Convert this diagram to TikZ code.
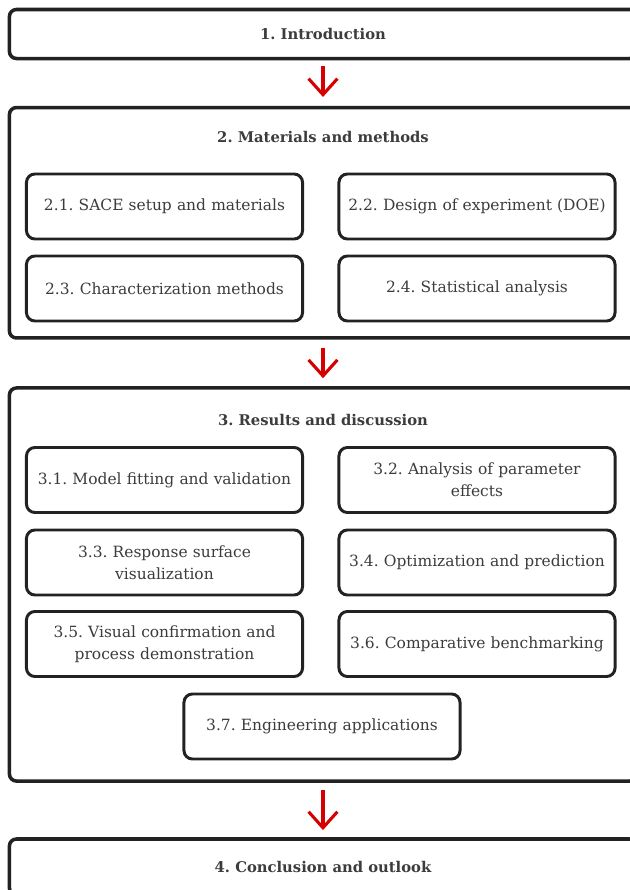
\documentclass[tikz,border=0pt]{standalone}
\usepackage{fontspec}
\setmainfont{DejaVu Serif}
\usepackage{xcolor}
\usetikzlibrary{arrows.meta}
\definecolor{framegray}{RGB}{34,34,34}
\definecolor{inkgray}{RGB}{60,60,60}
\definecolor{flowred}{RGB}{214,0,0}
\frenchspacing

\tikzset{
    secframe/.style={draw=framegray, line width=2.5pt, rounded corners=5pt, fill=white, minimum width=15.675cm},
    sectitle/.style={text=inkgray, font=\bfseries\fontsize{10.5}{13}\selectfont},
    subbox/.style={draw=framegray, line width=2.1pt, rounded corners=6pt, fill=white,
        minimum width=6.9cm, minimum height=1.625cm, text width=6.7cm, align=center,
        inner sep=0pt, text=inkgray, font=\fontsize{11}{15.5}\selectfont},
    flowarrow/.style={-{Straight Barb[length=0.4cm,width=0.72cm]}, flowred, line width=2.2pt}
}

\begin{document}
\begin{tikzpicture}[x=0.025cm,y=-0.025cm]
        \useasboundingbox (0,0) rectangle (630,890);
        \clip (0,0) rectangle (630,890);
        \fill[white] (0,0) rectangle (630,890);

        % Section 1
        \node[secframe, minimum height=1.225cm, sectitle] (intro) at (323,34) {1. Introduction};

        % Section 2 frame and sub-sections
        \node[secframe, minimum height=5.76cm] (matmeth) at (323,222.75) {};
        \node[sectitle] (matmethtitle) at (323,137) {2. Materials and methods};
        \node[subbox] (setup) at (164.5,206.5) {2.1. SACE setup and materials};
        \node[subbox] (doe) at (477,206.5) {2.2. Design of experiment (DOE)};
        \node[subbox] (charac) at (164.5,288.5) {2.3. Characterization methods};
        \node[subbox] (stats) at (477,288.5) {2.4. Statistical analysis};

        % Section 3 frame and sub-sections
        \node[secframe, minimum height=9.825cm] (results) at (323,584.5) {};
        \node[sectitle] (resultstitle) at (323,420) {3. Results and discussion};
        \node[subbox] (fitting) at (164.5,480) {3.1. Model fitting and validation};
        \node[subbox] (effects) at (477,480) {3.2. Analysis of parameter\\effects};
        \node[subbox] (surface) at (164.5,562.5) {3.3. Response surface\\visualization};
        \node[subbox] (optim) at (477,562.5) {3.4. Optimization and prediction};
        \node[subbox] (visual) at (164.5,644) {3.5. Visual confirmation and\\process demonstration};
        \node[subbox] (bench) at (477,644) {3.6. Comparative benchmarking};
        \node[subbox] (engapp) at (322,726.5) {3.7. Engineering applications};

        % Section 4
        \node[secframe, minimum height=1.4cm, sectitle] (concl) at (323,867) {4. Conclusion and outlook};

        % Flow arrows
        \draw[flowarrow, shorten <=0.14cm, shorten >=0.22cm] (intro) -- (matmeth);
        \draw[flowarrow, shorten <=0.2cm, shorten >=0.2cm] (matmeth) -- (results);
        \draw[flowarrow, shorten <=0.18cm, shorten >=0.18cm] (results) -- (concl);
    \end{tikzpicture}
\end{document}
